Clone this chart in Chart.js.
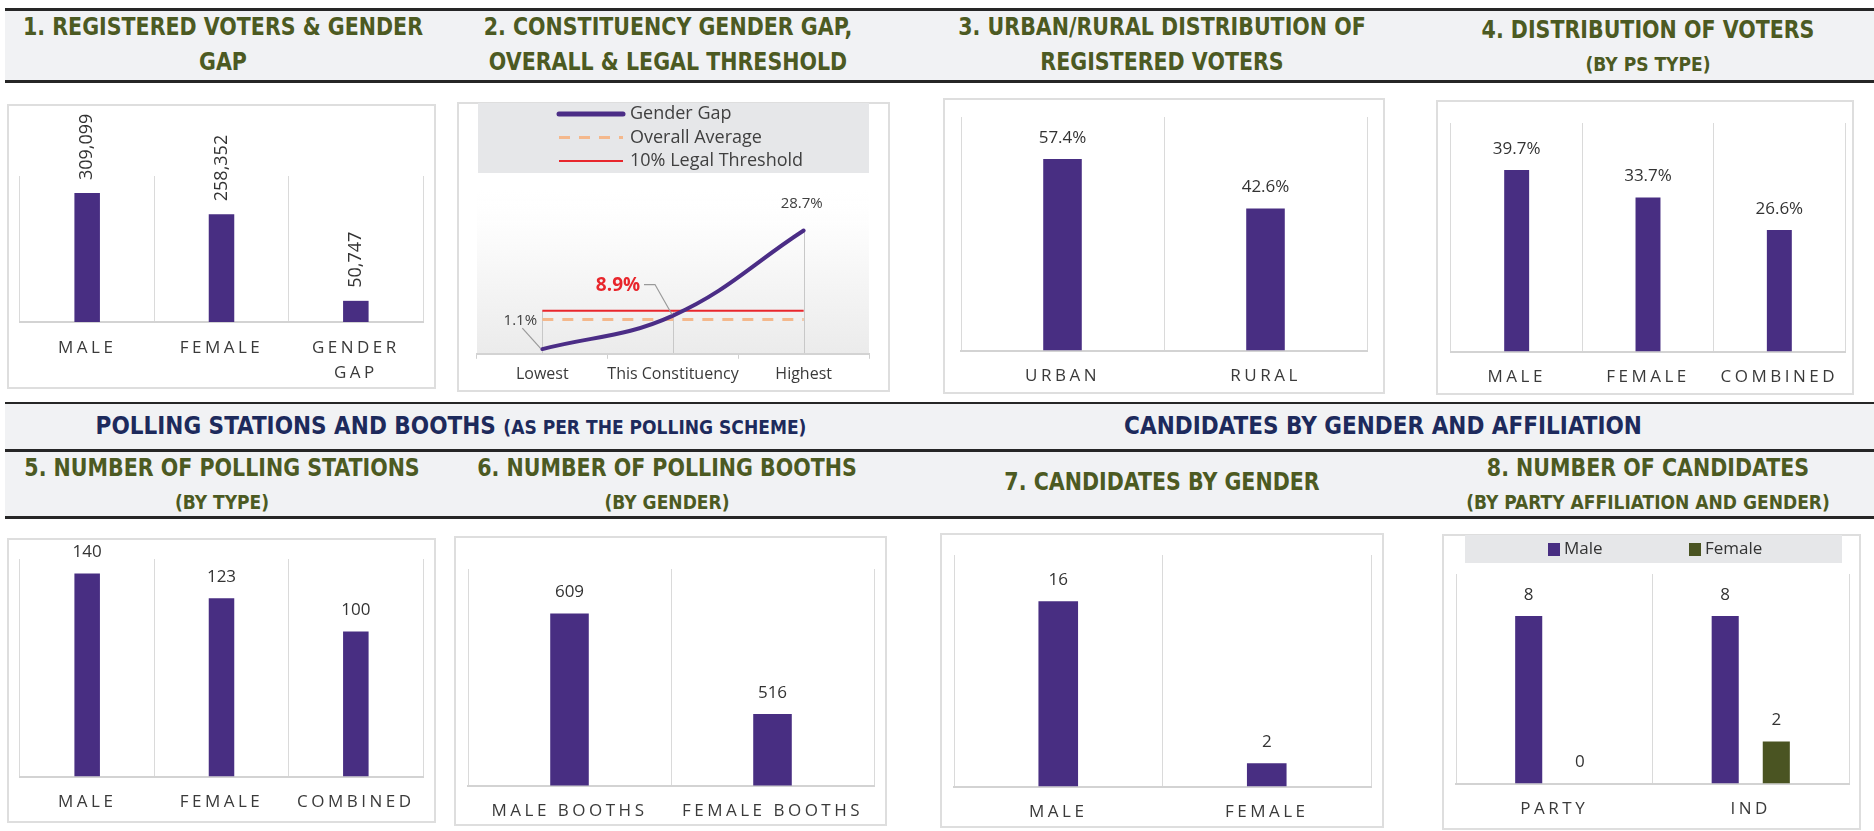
<!DOCTYPE html>
<html>
<head>
<meta charset="utf-8">
<script src="https://cdn.jsdelivr.net/npm/chart.js@4.4.1/dist/chart.umd.min.js"></script>
<style>
  html, body { margin: 0; padding: 0; background: #fff; }
  body { width: 1874px; height: 831px; position: relative; overflow: hidden; font-family: "Open Sans", sans-serif; }
  .band { position: absolute; left: 5px; right: 0; background: #f1f2f4; box-sizing: border-box; }
  .hd { position: absolute; width: 560px; text-align: center; color: #4c5a22; font-family: "DejaVu Sans Condensed", "DejaVu Sans", sans-serif; font-stretch: condensed; font-weight: bold; white-space: nowrap; }
  .hd div { height: 35px; line-height: 35px; font-size: 25px; transform: scaleX(0.915); }
  .hd div.sub { font-size: 19px; transform: none; }
  .mid { position: absolute; text-align: center; color: #1d2a5c; font-family: "DejaVu Sans Condensed", "DejaVu Sans", sans-serif; font-stretch: condensed; font-weight: bold; white-space: nowrap; height: 40px; line-height: 40px; font-size: 24px; width: 900px; }
  .mid span { font-size: 19px; }
  .panel { position: absolute; border: 2px solid #dedede; box-sizing: border-box; background: #fff; }
  .cw { position: absolute; }
</style>
</head>
<body>

<div class="band" style="top:8px;height:75px;border-top:3px solid #262626;border-bottom:3px solid #262626;"></div>
<div class="band" style="top:402px;height:50px;border-top:2px solid #262626;border-bottom:3px solid #262626;"></div>
<div class="band" style="top:452px;height:67px;border-bottom:3px solid #262626;"></div>

<div class="hd" style="left:-57px;top:9px;"><div>1. REGISTERED VOTERS &amp; GENDER</div><div>GAP</div></div>
<div class="hd" style="left:388px;top:9px;"><div>2. CONSTITUENCY GENDER GAP,</div><div>OVERALL &amp; LEGAL THRESHOLD</div></div>
<div class="hd" style="left:882px;top:9px;"><div>3. URBAN/RURAL DISTRIBUTION OF</div><div>REGISTERED VOTERS</div></div>
<div class="hd" style="left:1368px;top:12px;"><div>4. DISTRIBUTION OF VOTERS</div><div class="sub">(BY PS TYPE)</div></div>

<div class="mid" style="left:1px;top:406px;">POLLING STATIONS AND BOOTHS <span>(AS PER THE POLLING SCHEME)</span></div>
<div class="mid" style="left:933px;top:406px;">CANDIDATES BY GENDER AND AFFILIATION</div>

<div class="hd" style="left:-58px;top:450px;"><div>5. NUMBER OF POLLING STATIONS</div><div class="sub">(BY TYPE)</div></div>
<div class="hd" style="left:387px;top:450px;"><div>6. NUMBER OF POLLING BOOTHS</div><div class="sub">(BY GENDER)</div></div>
<div class="hd" style="left:882px;top:464px;"><div>7. CANDIDATES BY GENDER</div></div>
<div class="hd" style="left:1368px;top:450px;"><div>8. NUMBER OF CANDIDATES</div><div class="sub">(BY PARTY AFFILIATION AND GENDER)</div></div>

<div class="panel" style="left:7px;top:104px;width:429px;height:285px;"></div>
<div class="panel" style="left:457px;top:102px;width:433px;height:290px;"></div>
<div class="panel" style="left:943px;top:98px;width:442px;height:296px;"></div>
<div class="panel" style="left:1436px;top:100px;width:418px;height:295px;"></div>
<div class="panel" style="left:7px;top:538px;width:429px;height:285px;"></div>
<div class="panel" style="left:454px;top:536px;width:433px;height:290px;"></div>
<div class="panel" style="left:940px;top:533px;width:444px;height:295px;"></div>
<div class="panel" style="left:1442px;top:534px;width:419px;height:296px;"></div>

<div class="cw" style="left:7px;top:104px;width:429px;height:295px;"><canvas id="c1"></canvas></div>
<div class="cw" style="left:457px;top:102px;width:433px;height:288px;"><canvas id="c2"></canvas></div>
<div class="cw" style="left:943px;top:98px;width:442px;height:304px;"><canvas id="c3"></canvas></div>
<div class="cw" style="left:1436px;top:100px;width:418px;height:303px;"><canvas id="c4"></canvas></div>
<div class="cw" style="left:7px;top:538px;width:429px;height:290px;"><canvas id="c5"></canvas></div>
<div class="cw" style="left:454px;top:536px;width:433px;height:301px;"><canvas id="c6"></canvas></div>
<div class="cw" style="left:940px;top:533px;width:444px;height:305px;"><canvas id="c7"></canvas></div>
<div class="cw" style="left:1442px;top:534px;width:419px;height:301px;"><canvas id="c8"></canvas></div>

<script>
// 1. registered voters
const votersLabels = ['MALE', 'FEMALE', ['GENDER', 'GAP']];
const votersValues = [309099, 258352, 50747];

// 2. gender gap comparison
const gapLabels = ['Lowest', 'This Constituency', 'Highest'];
const gapValues = [1.1, 8.9, 28.7];
const overallAverage = [8.0, 8.0, 8.0];
const legalThreshold = [10, 10, 10];

// 3. urban / rural
const areaLabels = ['URBAN', 'RURAL'];
const areaValues = [57.4, 42.6];

// 4. voters by PS type
const psTypeLabels = ['MALE', 'FEMALE', 'COMBINED'];
const psTypeValues = [39.7, 33.7, 26.6];

// 5. polling stations
const stationLabels = ['MALE', 'FEMALE', 'COMBINED'];
const stationValues = [140, 123, 100];

// 6. polling booths
const boothLabels = ['MALE BOOTHS', 'FEMALE BOOTHS'];
const boothValues = [609, 516];

// 7. candidates
const candLabels = ['MALE', 'FEMALE'];
const candValues = [16, 2];

// 8. candidates by affiliation
const affLabels = ['PARTY', 'IND'];
const affMale = [8, 8];
const affFemale = [0, 2];

const PURPLE = '#482e82';
const OLIVE = '#4a5422';

Chart.defaults.font.family = '"Open Sans", sans-serif';
Chart.defaults.color = '#3a3a3a';
Chart.defaults.animation = false;

// letter spacing for the axis labels only
const tickSpacing = {
    id: 'tickSpacing',
    beforeDraw(chart, args, opts) {
        chart.ctx.letterSpacing = opts.value || '0px';
    },
    beforeDatasetsDraw(chart) {
        chart.ctx.letterSpacing = '0px';
    }
};

// value labels above the bars
const barLabels = {
    id: 'barLabels',
    afterDatasetsDraw(chart, args, opts) {
        if (!opts.show) return;
        const ctx = chart.ctx;
        ctx.save();
        ctx.font = (opts.rotate ? '18px' : '17px') + ' "Open Sans"';
        ctx.fillStyle = '#333';
        chart.data.datasets.forEach(function (ds, i) {
            chart.getDatasetMeta(i).data.forEach(function (bar, j) {
                const txt = opts.fmt(ds.data[j]);
                if (opts.rotate) {
                    ctx.save();
                    ctx.translate(bar.x, bar.y - 13);
                    ctx.rotate(-Math.PI / 2);
                    ctx.textAlign = 'left';
                    ctx.textBaseline = 'middle';
                    ctx.fillText(txt, 0, 0);
                    ctx.restore();
                } else {
                    ctx.textAlign = 'center';
                    ctx.textBaseline = 'middle';
                    ctx.fillText(txt, bar.x, bar.y - 21);
                }
            });
        });
        ctx.restore();
    }
};

Chart.register(tickSpacing, barLabels);

const num = v => v.toLocaleString('en-US');
const pct = v => v.toFixed(1) + '%';

function barChart(id, labels, datasets, yMin, yMax, pad, fmt, extra) {
    extra = extra || {};
    return new Chart(document.getElementById(id), {
        type: 'bar',
        data: { labels: labels, datasets: datasets },
        options: {
            responsive: true,
            maintainAspectRatio: false,
            layout: { padding: pad },
            datasets: {
                bar: {
                    categoryPercentage: extra.cat || 1,
                    barPercentage: extra.bar || 0.19
                }
            },
            scales: {
                x: {
                    offset: true,
                    grid: { offset: true, color: '#dadada', lineWidth: 1, drawTicks: false },
                    border: { color: '#d3d3d3', width: 2 },
                    ticks: {
                        padding: 13,
                        maxRotation: 0,
                        autoSkip: false,
                        color: '#3a3a3a',
                        font: { size: 17, lineHeight: 1.5 }
                    }
                },
                y: { display: false, min: yMin, max: yMax }
            },
            plugins: {
                legend: { display: false },
                tooltip: { enabled: false },
                tickSpacing: { value: '3.5px' },
                barLabels: { show: true, fmt: fmt, rotate: !!extra.rotate }
            }
        },
        plugins: extra.plugins || []
    });
}

barChart('c1', votersLabels, [{ data: votersValues, backgroundColor: PURPLE }],
    0, 350000, { left: 13, right: 13, top: 72, bottom: 0 }, num, { rotate: true });

barChart('c3', areaLabels, [{ data: areaValues, backgroundColor: PURPLE }],
    0, 70, { left: 18, right: 18, top: 19, bottom: 0 }, pct);

barChart('c4', psTypeLabels, [{ data: psTypeValues, backgroundColor: PURPLE }],
    0, 50, { left: 15, right: 9, top: 23, bottom: 0 }, pct);

barChart('c5', stationLabels, [{ data: stationValues, backgroundColor: PURPLE }],
    0, 150, { left: 13, right: 13, top: 21, bottom: 0 }, num);

barChart('c6', boothLabels, [{ data: boothValues, backgroundColor: PURPLE }],
    450, 650, { left: 14, right: 13, top: 33, bottom: 0 }, num);

barChart('c7', candLabels, [{ data: candValues, backgroundColor: PURPLE }],
    0, 20, { left: 14, right: 13, top: 22, bottom: 0 }, num);

// legend box for chart 8
const affLegend = {
    id: 'affLegend',
    beforeDraw(chart) {
        const a = chart.chartArea, ctx = chart.ctx;
        ctx.save();
        ctx.fillStyle = '#e6e7e9';
        ctx.fillRect(a.left + 9, 1, a.width - 16, 28);
        ctx.restore();
    },
    afterDraw(chart) {
        const a = chart.chartArea, ctx = chart.ctx;
        const xs = [a.left + 92, a.left + 233];
        ctx.save();
        ctx.letterSpacing = '0px';
        ctx.font = '17px "Open Sans"';
        ctx.textBaseline = 'middle';
        ctx.textAlign = 'left';
        chart.data.datasets.forEach(function (ds, i) {
            ctx.fillStyle = ds.backgroundColor;
            ctx.fillRect(xs[i], 9, 12, 13);
            ctx.fillStyle = '#333';
            ctx.fillText(ds.label, xs[i] + 16, 15);
        });
        ctx.restore();
    }
};

barChart('c8', affLabels, [
    { label: 'Male', data: affMale, backgroundColor: PURPLE },
    { label: 'Female', data: affFemale, backgroundColor: OLIVE }
], 0, 10, { left: 14, right: 12, top: 40, bottom: 0 }, num, { cat: 0.52, bar: 0.53, plugins: [affLegend] });

// chart 2: gender gap line chart
const gapDecor = {
    id: 'gapDecor',
    beforeDraw(chart) {
        const ctx = chart.ctx, a = chart.chartArea;
        const xs = chart.scales.x, ys = chart.scales.y;
        ctx.save();
        ctx.fillStyle = '#e6e7e9';
        ctx.fillRect(a.left + 1, 1, a.width - 1, 70);

        const g = ctx.createLinearGradient(0, a.top, 0, a.bottom);
        g.addColorStop(0, 'rgba(255,255,255,0)');
        g.addColorStop(0.3, '#fcfcfc');
        g.addColorStop(1, '#ebebeb');
        ctx.fillStyle = g;
        ctx.fillRect(a.left, a.top, a.width, a.bottom - a.top);

        ctx.strokeStyle = '#c8c8c8';
        ctx.lineWidth = 1;
        chart.data.labels.forEach(function (l, i) {
            const top = Math.max.apply(null, chart.data.datasets.map(d => d.data[i]));
            const px = Math.round(xs.getPixelForValue(i)) + 0.5;
            ctx.beginPath();
            ctx.moveTo(px, ys.getPixelForValue(top));
            ctx.lineTo(px, a.bottom);
            ctx.stroke();
        });
        ctx.restore();
    },
    afterDraw(chart) {
        const ctx = chart.ctx, a = chart.chartArea;
        ctx.save();
        // legend
        ctx.font = '18px "Open Sans"';
        ctx.textBaseline = 'middle';
        ctx.textAlign = 'left';
        chart.data.datasets.forEach(function (ds, i) {
            const y = 12 + i * 23.5;
            ctx.strokeStyle = ds.borderColor;
            ctx.lineWidth = i === 0 ? 5 : ds.borderWidth;
            ctx.lineCap = i === 0 ? 'round' : 'butt';
            ctx.setLineDash(ds.borderDash || []);
            ctx.beginPath();
            ctx.moveTo(a.left + 82, y);
            ctx.lineTo(a.left + 146, y);
            ctx.stroke();
            ctx.setLineDash([]);
            ctx.fillStyle = '#404040';
            ctx.fillText(ds.label, a.left + 153, y);
        });

        // point labels
        const pts = chart.getDatasetMeta(0).data;
        const vals = chart.data.datasets[0].data;
        ctx.textAlign = 'center';
        ctx.strokeStyle = '#9a9a9a';
        ctx.lineWidth = 1.2;

        ctx.font = '15px "Open Sans"';
        ctx.fillStyle = '#404040';
        ctx.fillText(vals[0].toFixed(1) + '%', pts[0].x - 22, pts[0].y - 28);
        ctx.beginPath();
        ctx.moveTo(pts[0].x - 20, pts[0].y - 21);
        ctx.lineTo(pts[0].x - 2, pts[0].y - 1);
        ctx.stroke();

        ctx.fillText(vals[2].toFixed(1) + '%', pts[2].x - 2, pts[2].y - 27);

        ctx.font = 'bold 19px "Open Sans"';
        ctx.fillStyle = '#e8262c';
        ctx.fillText(vals[1].toFixed(1) + '%', pts[1].x - 55, pts[1].y - 30);
        ctx.beginPath();
        ctx.moveTo(pts[1].x - 29, pts[1].y - 31);
        ctx.lineTo(pts[1].x - 18, pts[1].y - 31);
        ctx.lineTo(pts[1].x - 1, pts[1].y - 1);
        ctx.stroke();
        ctx.restore();
    }
};

new Chart(document.getElementById('c2'), {
    type: 'line',
    data: {
        labels: gapLabels,
        datasets: [{
            label: 'Gender Gap',
            data: gapValues,
            borderColor: '#4b2d86',
            borderWidth: 4,
            borderCapStyle: 'round',
            tension: 0.4,
            pointRadius: 0
        }, {
            label: 'Overall Average',
            data: overallAverage,
            borderColor: '#f4b88c',
            borderWidth: 3,
            borderDash: [11, 9],
            pointRadius: 0
        }, {
            label: '10% Legal Threshold',
            data: legalThreshold,
            borderColor: '#e8262c',
            borderWidth: 2,
            pointRadius: 0
        }]
    },
    options: {
        responsive: true,
        maintainAspectRatio: false,
        layout: { padding: { left: 20, right: 21, top: 80, bottom: 0 } },
        scales: {
            x: {
                offset: true,
                grid: { offset: true, drawOnChartArea: false, color: '#d0d0d0', tickLength: 5 },
                border: { color: '#d3d3d3', width: 2 },
                ticks: { padding: 6, maxRotation: 0, autoSkip: false, color: '#3a3a3a', font: { size: 16 } }
            },
            y: { display: false, min: 0, max: 40 }
        },
        plugins: {
            legend: { display: false },
            tooltip: { enabled: false },
            barLabels: { show: false }
        }
    },
    plugins: [gapDecor]
});
</script>
</body>
</html>
